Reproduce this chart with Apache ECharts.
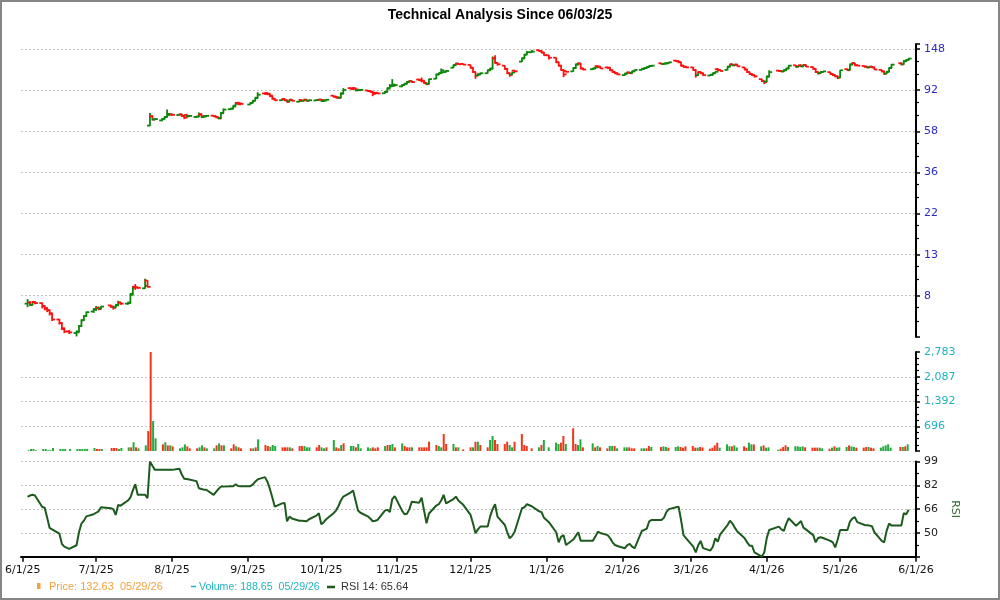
<!DOCTYPE html>
<html>
<head>
<meta charset="utf-8">
<title>Technical Analysis</title>
<script src="https://cdn.jsdelivr.net/npm/echarts@6/dist/echarts.min.js"></script>
<style>
  html, body { margin: 0; padding: 0; background: #fff; }
  #main { width: 1000px; height: 600px; }
</style>
</head>
<body>
<div id="main"></div>
<script>
// market holidays skipped when listing the trading days
const holidays = ['2025-06-19', '2025-07-04', '2025-09-01', '2025-11-27', '2025-12-25',
  '2026-01-01', '2026-01-19', '2026-02-16', '2026-04-03', '2026-05-25'];

// daily bars: [open, close, low, high], one line per week
const prices = [
  [7.3,7.4,7.0,7.7],[7.4,7.2,7.1,7.5],[7.2,7.45,7.15,7.5],[7.45,7.35,7.25,7.5],
  [7.35,7.1,6.9,7.4],[7.1,6.9,6.75,7.15],[6.9,6.75,6.6,7.0],[6.75,6.5,6.35,6.8],[6.5,6.05,5.95,6.55],
  [6.05,5.8,5.7,6.1],[5.8,5.45,5.35,5.85],[5.4,5.25,5.15,5.5],[5.25,5.2,5.1,5.35],
  [5.15,5.2,4.95,5.3],[5.25,5.6,5.2,5.65],[5.6,6.0,5.55,6.05],[6.0,6.3,5.95,6.35],[6.3,6.6,6.25,6.65],
  [6.65,6.8,6.55,6.9],[6.85,6.95,6.7,7.1],[6.95,6.85,6.75,7.05],[6.9,7.05,6.85,7.1],
  [7.15,7.05,6.95,7.2],[7.05,6.95,6.8,7.1],[7.0,7.15,6.95,7.2],[7.2,7.4,7.1,7.55],[7.4,7.3,7.2,7.45],
  [7.3,7.35,7.2,7.4],[7.4,8.1,7.35,8.2],[8.2,8.8,8.1,9.0],[8.9,8.85,8.6,9.2],[8.85,8.8,8.7,8.9],
  [8.75,9.0,8.7,9.8],[9.6,8.9,8.85,9.65],[60,67,59.8,69.6],[67,64.5,64,67.8],[64.5,64.8,64,65.5],
  [63.8,65,63.3,65.5],[65,66.5,64.8,67],[66.5,69,66,72.5],[68,68.5,67.6,69.2],[68.5,68.2,67.5,69],
  [68,68.5,67.5,69],[68.5,67.2,66.5,69],[67.2,66,64.8,67.5],[68,67,66,69],[67,67.3,66.5,67.8],
  [66.4,66.8,65.8,67.2],[66.8,68.5,66.5,70],[68.5,67.2,66.8,69.5],[66.3,66.9,65.9,67.4],[67,67.4,66.6,67.9],
  [67.5,67,66.5,67.8],[67,66.2,65.8,67.2],[66.2,65.3,64.8,66.4],[65.5,69.5,65.3,70.2],[69.8,72.5,69.5,73.5],
  [72.8,73.3,72.5,73.8],[73.3,75.2,73,75.8],[76,77.8,75.8,79],[78.5,77.2,76.8,79.5],[78.3,77.6,77,78.8],
  [77,78.4,76.8,78.8],[78.5,80.5,78.3,81],[80.5,83,80.3,83.5],[83.5,86.5,83,89],
  [87.8,87.2,86.5,88.5],[88.3,87.5,86,89],[87,85.5,84.5,87.5],[85,82.5,82,85.5],[82.5,81,80.5,83],
  [81,81.8,80.5,82.3],[82.3,81,80.2,82.8],[81,79.5,78.8,81.5],[80,81.5,79.5,82],[81.5,80.5,80,82],
  [79.6,80.3,79,80.8],[81.3,80.6,80.1,81.6],[80.6,81.5,80.3,82],[81.5,80.5,80,81.8],[80.6,81,80.3,81.5],
  [80.8,81.2,80.5,81.6],[81.2,81.6,80.9,82],[81.6,81.3,80.7,82],[80.2,80.8,79.6,81.2],[80.8,81.5,80.5,81.9],
  [85.5,84.5,84,86],[84.5,83.5,83,85],[84,83.3,82.8,84.5],[83.5,87.5,83.2,88.5],[88,91.5,87.5,93.5],
  [93.5,92.5,92,94.5],[93,92.8,91.8,94.8],[93.5,92,91.5,94],[91,91.5,90.5,92],[91.2,91.6,90.8,92],
  [91,90.3,89.5,91.5],[90.3,89.5,89,91],[89.8,87.3,85,90],[88.5,88,87,89],[88.5,87.8,87.3,89],
  [88,89.5,87.5,90],[89.5,93,89.3,94],[93.5,96.5,93,98],[95.5,97.5,95,104],[96,96.8,95.5,97.5],
  [95.5,97,94.5,97.5],[97,98.5,96.5,99],[98.5,100.5,98,101.5],[100.5,101.5,100,102.8],[101.5,100.5,99.5,102],
  [103.5,102.5,101.8,104.5],[103,102,100,106],[102,99,98.5,102.5],[99.5,98,96.8,100],[98.5,104,98,104.5],
  [104.5,110,104,110.5],[110,111.5,109,112],[111.5,115.5,111,118],[112.5,113.5,112,114.5],[113.5,114.5,112.8,115.5],
  [119,122.5,118.5,123],[123,125,122.5,126],[125,124,123,125.8],[124.5,123.5,122.8,125],
  [123,119,118,123.5],[119,113,112,119.5],[113,108.5,104.5,113.5],[108.5,110,108,111],[110,111.5,109.5,112.5],
  [111.5,115.5,111,116],[115.5,117.5,115,118.5],[118,133,117.5,136],[133,126,125,138],[126,124,122,127],
  [122,117.5,116.5,122.5],[117.5,111.5,110.5,118],[111.5,109.5,107,112],[110,112.5,109.5,113.5],[115,114,113,116],
  [128,133,127.5,134],[133,139,132.5,140],[139,143,138.5,145],[143,144,142,147],
  [146.5,145,144,147.5],[145,142.5,141.5,146],[142.5,138,137,143],[138,134,131,138.5],
  [134,127,126,134.5],[127,122,121,127.5],[122,116,115,122.5],[116,110,106.5,116.5],[114.5,113.5,112.5,115],
  [114,118.5,113.5,119.5],[118.5,123.5,118,124.5],[124,125,123,127],[125,118,117,125.5],[118,116.5,115.5,118.5],
  [117,118,116,118.5],[118,119.5,117.5,121],[121.5,120.5,119.5,122],[120.5,118,117.5,121],
  [119.5,119,118,120.5],[119,115.5,114.5,119.5],[115.5,113,112,116],[113,111.5,110.5,113.5],[111.5,110,109,112],
  [109,111,108,111.5],[111,112.5,110.5,113.5],[112.5,111.5,110.5,113],[112,114,111.5,114.5],[114,116,113.5,116.5],
  [116,117.5,115.5,118],[117.5,118.5,116.5,119.5],[118.5,120,118,120.5],[120,121.5,119.5,122],[121.5,122,121,123],
  [125.5,124.5,123.8,126],[124.5,125,124,126],[125,125.5,124.5,127],[125.5,127,125,127.5],
  [129.5,128.5,127.5,130.5],[128.5,127,126,129.5],[127,122,121,127.5],[122,120.5,119.5,122.5],[120.5,119.5,118.5,121],
  [119.5,116,115,120],[116,109,106,116.5],[109,113,108.5,114],[113,111.5,110.5,114],[111.5,109,108,112],
  [108.5,109.5,108,110],[109.5,111.5,109,112],[111.5,113.5,111,114],[117,116,114,118.5],[116,114.5,114,116.5],
  [116,120.5,115.5,121],[120.5,123.5,120,124.5],[124,122.5,122,125],[122.5,123.5,122,124.5],[123.5,121,120.5,124],
  [119.5,116.5,116,120],[116.5,113,112,117],[113,110.5,109.5,113.5],[110.5,109,108,111],[109,107.5,106,109.5],
  [104,101.5,100.5,104.5],[101.5,100.5,98,102],[101,107,100.5,108],[107.5,113,107,115.5],
  [115,114.5,113.5,116],[114.5,114,113,115.5],[114,115.5,113.5,116.5],[115.5,118,115,118.5],[118,122,117.5,123],
  [122.5,120.5,119.5,123],[120.5,122,120,123],[122.5,121,120,123.5],[121,123,120.5,124],[123,120.5,120,123.5],
  [120,117.5,116.5,120.5],[117.5,113,112,118],[113,111.5,110,113.5],[111.5,113,111,114],[113,114,112.5,114.5],
  [113,110.5,110,113.5],[110.5,109,108,111],[109,107.5,106.5,109.5],[107.5,106,104,108],[106,115.5,105.5,116],
  [117,115.5,115,118],[116,123.5,115.5,124],[124,125.5,123.5,127],[125.5,122.5,122,126],[122.5,122,121.5,123.5],
  [121.5,120.5,119.5,122],[120.5,119.5,119,121.5],[119.5,120.5,119,121],[120.5,119.5,119,121.5],[119.5,116.5,116,120],
  [116,114,113,116.5],[114,111,109.5,114.5],[111,113.5,110.5,114],[113.5,118.5,113,119],[119,123.5,118.5,124.5],
  [125.5,124,122.5,127],[124,128.5,123.5,130],[128.5,130.5,128,131.5],[130.5,132.63,130,133.5]
];

const volumes = [
  20, 56, 56, 20,
  56, 56, 20, 20, 84,
  56, 56, 56, 56,
  56, 56, 56, 56, 56,
  84, 56, 56, 56,
  84, 84, 84, 56, 84,
  103, 103, 244, 103, 75,
  159, 562, 2783, 843, 356,
  187, 244, 159, 159, 131,
  75, 103, 187, 131, 75,
  75, 103, 159, 103, 75,
  75, 159, 215, 159, 159,
  75, 187, 131, 103, 75,
  75, 75, 103, 328,
  169, 140, 122, 169, 140,
  103, 103, 103, 103, 75,
  140, 140, 140, 103, 103,
  103, 169, 103, 75, 103,
  309, 103, 75, 169, 215,
  140, 140, 103, 197, 75,
  103, 75, 103, 75, 103,
  140, 169, 169, 197, 103,
  215, 140, 103, 103, 103,
  103, 103, 103, 103, 262,
  169, 140, 103, 478, 197,
  197, 103, 103, 47,
  103, 103, 262, 262, 169,
  103, 309, 422, 309, 197,
  197, 262, 169, 103, 262,
  478, 169, 140, 75,
  103, 169, 309, 103,
  234, 197, 234, 422, 197,
  637, 197, 169, 328, 103,
  215, 103, 140, 103,
  75, 140, 140, 140, 75,
  103, 103, 103, 75, 75,
  75, 75, 75, 140, 112,
  112, 131, 112, 94,
  112, 131, 112, 94, 131,
  140, 94, 94, 112, 100,
  65, 94, 159, 234, 94,
  187, 131, 131, 159, 100,
  131, 94, 234, 187, 187,
  131, 159, 94, 103,
  37, 65, 112, 159, 112,
  131, 131, 112, 131, 103,
  94, 94, 94, 94, 75,
  65, 94, 131, 94, 103,
  112, 159, 131, 112, 94,
  94, 112, 112, 94, 75,
  94, 131, 159, 187, 94,
  112, 112, 131, 188.65
];

// volume bar colour per day: g = green, r = red
const volumeSide = [
  'gggg', 'ggggg', 'gggg', 'ggggg', 'grrg', 'rrrgg', 'grgrg', 'grrgg', 'rgrgr', 'gggrr',
  'rggrg', 'grgrg', 'rrgrr', 'rgrg', 'rrggg', 'rrrgr', 'rrggg', 'rrggr', 'grrgr', 'ggrgg',
  'ggrrr', 'grggr', 'grrrg', 'rrrrr', 'rggrr', 'grgr', 'rgrgr', 'rggrr', 'rrggr', 'rrrr',
  'grgg', 'ggrrg', 'rrggr', 'grgr', 'rggrg', 'ggrrr', 'ggrrg', 'rggr', 'ggrrr', 'rrgrr',
  'rrrrg', 'ggrgg', 'rrggr', 'grgg', 'grrrg', 'ggggr', 'rrrgg', 'rgrgg', 'grggr', 'rrgrr',
  'ggggg', 'rgrg'
].join('');

const rsi = [
  74.5, 75.5, 76, 75.5,
  67.5, 67, 60, 53, 52,
  49, 42, 40, 38.5,
  41, 50, 56, 58, 61,
  62.5, 63.5, 64.5, 67.3,
  66.6, 66, 62, 68.9, 68.4,
  72, 74, 79, 83.3, 76,
  76, 73.6, 99, 96, 93.2,
  93.2, 93.2, 93.2, 93.2, 93.2,
  94, 90, 87, 86.8, 86.6,
  85.4, 80.5, 80, 79.5, 79.4,
  75.9, 78, 80, 81.6, 81.6,
  81.9, 81.9, 83.3, 82, 81.9,
  81.9, 83, 85, 86.6,
  88.2, 85, 80, 74, 67.7,
  70, 70.3, 57.6, 60.8, 59.5,
  58, 58, 57.8, 57.6, 59,
  61.5, 63.2, 55.5, 57, 59,
  63.2, 65, 68, 72, 74.7,
  77.5, 79, 72, 65, 63.5,
  61, 59.5, 57.6, 58, 58.5,
  65, 65.5, 64, 73, 75,
  65, 62.5, 62.8, 66, 71.2,
  70.5, 74, 65, 56.2, 63,
  68.5, 69.4, 72, 75.9, 70,
  73, 74.7, 72, 69,
  62, 56, 49.3, 52, 53.9,
  54, 61, 66, 69.4, 60.8,
  55, 50, 45.8, 47.5, 50.4,
  66.6, 67.3, 69.4, 68,
  64.5, 63.9, 60, 57,
  50, 43, 47, 48, 41.2,
  45, 47.5, 50, 44.2, 44.2,
  44.2, 47, 50.4, 49.5,
  48, 46, 43, 41.2, 40.5,
  38.9, 41, 42, 40, 38.9,
  51, 51.6, 52.5, 57.6, 58.5,
  58.5, 60, 64, 66,
  67.3, 67.7, 58.5, 48, 46,
  40, 36.1, 41, 44, 39,
  37.3, 40, 45.8, 43.5, 48.6,
  55, 58, 56, 53, 50.5,
  45.8, 43, 40.7, 40.7, 36,
  33.2, 36, 45.8, 51.6,
  53.9, 52, 51, 56, 59.7,
  54.5, 56, 57.8, 53.2, 52,
  48, 43, 46, 46.5, 46,
  44, 43, 39.5, 45, 51.6,
  51.6, 57.3, 59.5, 60.5, 57,
  55, 54.8, 54.6, 54.2, 50,
  44, 43, 51, 56, 54.6,
  54.6, 63.2, 62.5, 65.64
];

const priceTickLabels = ['8', '13', '22', '36', '58', '92', '148'];
const rsiTickLabels = ['50', '66', '82', '99'];

const upColor = '#0b860b';
const downColor = '#ff1010';
const volUp = '#22aa3c';
const volDown = '#f2361c';
const rsiColor = '#1d5a1d';
const gridLine = { show: true, showMinLine: false, showMaxLine: false, lineStyle: { color: '#c4c4c4', type: [2, 2], width: 1 } };
const font = 'DejaVu Sans';

function pad(n) { return n < 10 ? '0' + n : '' + n; }

function tradingDays() {
  const out = [];
  const d = new Date(2025, 5, 3);
  const end = new Date(2026, 4, 29);
  while (d <= end) {
    const key = d.getFullYear() + '-' + pad(d.getMonth() + 1) + '-' + pad(d.getDate());
    const wd = d.getDay();
    if (wd !== 0 && wd !== 6 && holidays.indexOf(key) < 0) out.push(key);
    d.setDate(d.getDate() + 1);
  }
  return out;
}
const dates = tradingDays();

function monthLabel(value) {
  const d = new Date(value);
  if (d.getDate() !== 1 || d.getHours() !== 0) return '';
  return (d.getMonth() + 1) + '/1/' + String(d.getFullYear()).slice(2);
}

function withCommas(n) {
  return String(n).replace(/\B(?=(\d{3})+(?!\d))/g, ',');
}

// OHLC bar: high-low stem, open tick left, close tick right
function renderOHLC(params, api) {
  const t = api.value(0);
  const o = api.value(1), c = api.value(2);
  const pO = api.coord([t, o]);
  const pC = api.coord([t, c]);
  const pL = api.coord([t, api.value(3)]);
  const pH = api.coord([t, api.value(4)]);
  const style = { stroke: c >= o ? upColor : downColor, lineWidth: 1.8 };
  const x = pO[0];
  return {
    type: 'group',
    children: [
      { type: 'line', shape: { x1: x, y1: pH[1], x2: x, y2: pL[1] }, style: style },
      { type: 'line', shape: { x1: x - 3, y1: pO[1], x2: x, y2: pO[1] }, style: style },
      { type: 'line', shape: { x1: x, y1: pC[1], x2: x + 3, y2: pC[1] }, style: style }
    ]
  };
}

const priceBase = Math.pow(148 / 8, 1 / 6);
const xMin = '2025-05-31 07:18';
const xMax = '2026-06-01';
const last = dates.length - 1;
const lastDate = dates[last].slice(5, 7) + '/' + dates[last].slice(8) + '/' + dates[last].slice(2, 4);

const axisLineStyle = { show: true, lineStyle: { color: '#000', width: 2 } };
const yTick = { show: true, length: 4, lineStyle: { color: '#000', width: 1.5 } };

const option = {
  animation: false,
  backgroundColor: '#fff',
  title: {
    text: 'Technical Analysis Since 06/03/25',
    left: 'center',
    top: 3,
    textStyle: { fontFamily: 'Liberation Sans', fontSize: 14, fontWeight: 'bold', color: '#000' }
  },
  grid: [
    { left: 21, right: 84, top: 44, height: 293 },
    { left: 21, right: 84, top: 352, height: 99 },
    { left: 21, right: 84, top: 461.5, height: 95.3 }
  ],
  xAxis: [
    { type: 'time', gridIndex: 0, min: xMin, max: xMax, show: false },
    { type: 'time', gridIndex: 1, min: xMin, max: xMax, show: false },
    {
      type: 'time', gridIndex: 2, min: xMin, max: xMax,
      splitNumber: 12, minInterval: 28 * 86400000, maxInterval: 31 * 86400000,
      axisLine: axisLineStyle,
      axisTick: { show: true, length: 5, lineStyle: { color: '#000', width: 1.5 } },
      axisLabel: { formatter: monthLabel, color: '#111', fontFamily: font, fontSize: 11, margin: 8, hideOverlap: false },
      splitLine: { show: false }
    }
  ],
  yAxis: [
    {
      type: 'log', gridIndex: 0, position: 'right', logBase: priceBase,
      min: 8 / priceBase, max: 157.6, interval: 1,
      axisLine: axisLineStyle, axisTick: yTick,
      minorTick: { show: true, splitNumber: 3, length: 3, lineStyle: { color: '#000', width: 1.2 } },
      axisLabel: {
        color: '#2a2ac4', fontFamily: font, fontSize: 11, margin: 8,
        formatter: function (v, i) { return priceTickLabels[i - 1] || ''; }
      },
      splitLine: gridLine
    },
    {
      type: 'value', gridIndex: 1, position: 'right',
      min: 0, max: 2783, interval: 2783 / 4,
      axisLine: axisLineStyle, axisTick: yTick,
      minorTick: { show: true, splitNumber: 4, length: 3, lineStyle: { color: '#000', width: 1.2 } },
      axisLabel: {
        color: '#1fb0c0', fontFamily: font, fontSize: 11, margin: 8,
        formatter: function (v) { return v > 0 ? withCommas(Math.round(v)) : ''; }
      },
      splitLine: gridLine
    },
    {
      type: 'value', gridIndex: 2, position: 'right',
      min: 33, max: 99, interval: 16.5,
      name: 'RSI', nameLocation: 'middle', nameRotate: -90, nameGap: 26,
      nameTextStyle: { color: '#2e6a2e', fontFamily: font, fontSize: 11 },
      axisLine: axisLineStyle, axisTick: yTick,
      minorTick: { show: true, splitNumber: 2, length: 3, lineStyle: { color: '#000', width: 1.2 } },
      axisLabel: {
        color: '#222', fontFamily: font, fontSize: 11, margin: 8,
        formatter: function (v, i) { return rsiTickLabels[i - 1] || ''; }
      },
      splitLine: { show: true, showMinLine: false, showMaxLine: true, lineStyle: gridLine.lineStyle }
    }
  ],
  series: [
    {
      name: 'Price', type: 'custom', xAxisIndex: 0, yAxisIndex: 0,
      dimensions: ['date', 'open', 'close', 'low', 'high'],
      encode: { x: 0, y: [1, 2, 3, 4] },
      renderItem: renderOHLC,
      data: dates.map(function (d, i) { return [d].concat(prices[i]); })
    },
    {
      name: 'Volume', type: 'bar', xAxisIndex: 1, yAxisIndex: 1, barWidth: 2,
      itemStyle: { color: function (p) { return volumeSide[p.dataIndex] === 'r' ? volDown : volUp; } },
      data: dates.map(function (d, i) { return [d, volumes[i]]; })
    },
    {
      name: 'RSI 14', type: 'line', xAxisIndex: 2, yAxisIndex: 2,
      showSymbol: false, symbol: 'none',
      lineStyle: { color: rsiColor, width: 2 },
      data: dates.map(function (d, i) { return [d, rsi[i]]; })
    }
  ],
  graphic: [
    { type: 'rect', shape: { x: 1, y: 1, width: 998, height: 598 }, style: { fill: 'none', stroke: '#858585', lineWidth: 2 }, silent: true },
    { type: 'rect', shape: { x: 37, y: 583, width: 3.5, height: 6 }, style: { fill: '#f4a23a' } },
    { type: 'text', x: 49, y: 587, style: { text: 'Price: ' + prices[last][1].toFixed(2) + '  ' + lastDate, fill: '#f2a23e', font: '11px "Liberation Sans"', verticalAlign: 'middle' } },
    { type: 'line', shape: { x1: 191, y1: 586.5, x2: 196, y2: 586.5 }, style: { stroke: '#22b4c2', lineWidth: 1.5 } },
    { type: 'text', x: 199, y: 587, style: { text: 'Volume: ' + volumes[last].toFixed(2) + '  ' + lastDate, fill: '#22b4c2', font: '10.6px "Liberation Sans"', verticalAlign: 'middle' } },
    { type: 'line', shape: { x1: 327, y1: 587, x2: 335, y2: 587 }, style: { stroke: rsiColor, lineWidth: 2.5 } },
    { type: 'text', x: 341, y: 587, style: { text: 'RSI 14: ' + rsi[last].toFixed(2), fill: '#333', font: '11px "Liberation Sans"', verticalAlign: 'middle' } }
  ]
};

const chart = echarts.init(document.getElementById('main'));
chart.setOption(option);
</script>
</body>
</html>
